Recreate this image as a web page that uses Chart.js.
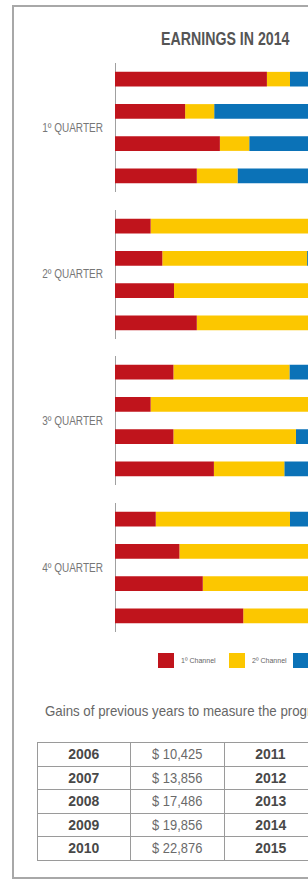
<!DOCTYPE html>
<html>
<head>
<meta charset="utf-8">
<script src="https://cdn.jsdelivr.net/npm/chart.js@4.4.0/dist/chart.umd.min.js"></script>
<style>
  html, body { margin: 0; padding: 0; background: #fff; overflow: hidden; }
  body { width: 308px; height: 880px; position: relative;
         font-family: "Liberation Sans", Arial, sans-serif; }
  .sq { display: inline-block; white-space: nowrap; }
  #frame { position: absolute; left: 12px; top: 5px; width: 423px; height: 870px;
           border: 2px solid #a8a8a8; }
  #title { position: absolute; left: 13px; width: 424px; top: 29px; line-height: 20px;
           text-align: center; font-weight: bold; font-size: 17.5px; color: #555; }
  #title .sq { transform: scaleX(0.81); transform-origin: center; }
  .qlabel { position: absolute; left: 3px; width: 100px; text-align: right;
            font-size: 12.5px; color: #777; line-height: 14px; }
  .qlabel .sq { transform: scaleX(0.8); transform-origin: right center; }
  .qchart { position: absolute; left: 110px; width: 290px; height: 129px; }
  .litem { position: absolute; top: 653px; height: 15px; }
  .litem .box { position: absolute; left: 0; top: 0; width: 16px; height: 15px; }
  .litem .sq { position: absolute; left: 23px; top: 3px; font-size: 8px; line-height: 9px; color: #666;
               transform: scaleX(0.88); transform-origin: left center; }
  #caption { position: absolute; left: 45px; top: 702px; font-size: 15px; line-height: 18px;
             color: #666; white-space: nowrap; }
  #caption .sq { transform: scaleX(0.885); transform-origin: left center; }
  #gains { position: absolute; left: 37px; top: 742px; width: 374px; table-layout: fixed;
           border-collapse: collapse; }
  #gains td { height: 23.5px; padding: 0; text-align: center; border: 1px solid #9a9a9a;
              font-size: 15px; line-height: 20px; overflow: hidden; box-sizing: border-box; }
  #gains td.year { font-weight: bold; color: #484848; }
  #gains td.year .sq { transform: scaleX(0.93); }
  #gains td.money { color: #6a6a6a; }
  #gains td.money .sq { transform: scaleX(0.86); }
</style>
</head>
<body>
<div id="frame"></div>
<div id="title"><span class="sq">EARNINGS IN 2014</span></div>
<div id="charts"></div>
<div id="legend"></div>
<div id="caption"><span class="sq">Gains of previous years to measure the progress of the company</span></div>
<table id="gains"><tbody></tbody></table>

<script>
// chart data
const quarters = ["1º QUARTER", "2º QUARTER", "3º QUARTER", "4º QUARTER"];
const channelNames = ["1º Channel", "2º Channel", "3º Channel"];
const channelColors = ["#c0141c", "#fcc700", "#0b72b7"];
const barsPerQuarter = 4;

// share of each bar (4 bars per quarter, quarters in order)
const channel1 = [53.3, 24.6, 36.8, 28.7, 12.5, 16.6, 20.7, 28.7, 20.5, 12.5, 20.5, 34.7, 14.3, 22.6, 30.8, 45.0];
const channel2 = [8.1, 10.2, 10.3, 14.3, 67.5, 50.8, 64.3, 53.3, 40.7, 65.5, 43.0, 24.7, 47.1, 55.0, 50.0, 40.0];
const channel3 = [38.6, 65.2, 52.9, 57.0, 20.0, 32.6, 15.0, 18.0, 38.8, 22.0, 36.5, 40.6, 38.6, 22.4, 19.2, 15.0];

// table of previous years
const yearsLeft = ["2006", "2007", "2008", "2009", "2010"];
const gainsLeft = ["$ 10,425", "$ 13,856", "$ 17,486", "$ 19,856", "$ 22,876"];
const yearsRight = ["2011", "2012", "2013", "2014", "2015"];
const gainsRight = ["$ 24,318", "$ 26,947", "$ 28,512", "$ 31,264", "$ 33,705"];

document.addEventListener("DOMContentLoaded", function () {
  const holder = document.querySelector("#charts");
  const series = [channel1, channel2, channel3];

  quarters.forEach((q, k) => {
    const top = 63 + k * 146.7;

    const label = document.createElement("div");
    label.className = "qlabel";
    label.innerHTML = '<span class="sq">' + q + "</span>";
    label.style.top = (top + 64.5 - 7) + "px";
    holder.appendChild(label);

    const wrap = document.createElement("div");
    wrap.className = "qchart";
    wrap.style.top = top + "px";
    const canvas = document.createElement("canvas");
    wrap.appendChild(canvas);
    holder.appendChild(wrap);

    const start = k * barsPerQuarter;
    new Chart(canvas.getContext("2d"), {
      type: "bar",
      data: {
        labels: ["1", "2", "3", "4"],
        datasets: series.map((s, i) => ({
          label: channelNames[i],
          data: s.slice(start, start + barsPerQuarter),
          backgroundColor: channelColors[i],
          borderWidth: 0,
          barPercentage: 0.45,
          categoryPercentage: 1,
        })),
      },
      options: {
        indexAxis: "y",
        responsive: true,
        maintainAspectRatio: false,
        animation: false,
        devicePixelRatio: 1,
        layout: { padding: 0 },
        scales: {
          x: { stacked: true, min: 0, max: 100, display: false },
          y: {
            stacked: true,
            ticks: { display: false },
            grid: { display: false, drawTicks: false },
            border: { display: true, color: "#a0a0a0", width: 1 },
            afterFit: function (scale) {
              scale.width = 5;
            },
          },
        },
        plugins: {
          legend: { display: false },
          tooltip: { enabled: false },
        },
      },
    });
  });

  // legend (html, under the last quarter)
  const legend = document.querySelector("#legend");
  const legendX = [158, 229, 293];
  channelNames.forEach((name, i) => {
    const item = document.createElement("div");
    item.className = "litem";
    item.style.left = legendX[i] + "px";
    item.innerHTML = '<div class="box" style="background:' + channelColors[i] + '"></div><span class="sq">' + name + "</span>";
    legend.appendChild(item);
  });

  // table
  const tbody = document.querySelector("#gains tbody");
  yearsLeft.forEach((y, r) => {
    const tr = document.createElement("tr");
    tr.innerHTML =
      '<td class="year"><span class="sq">' + y + '</span></td><td class="money"><span class="sq">' + gainsLeft[r] +
      '</span></td><td class="year"><span class="sq">' + yearsRight[r] + '</span></td><td class="money"><span class="sq">' +
      gainsRight[r] + "</span></td>";
    tbody.appendChild(tr);
  });
});
</script>
</body>
</html>
